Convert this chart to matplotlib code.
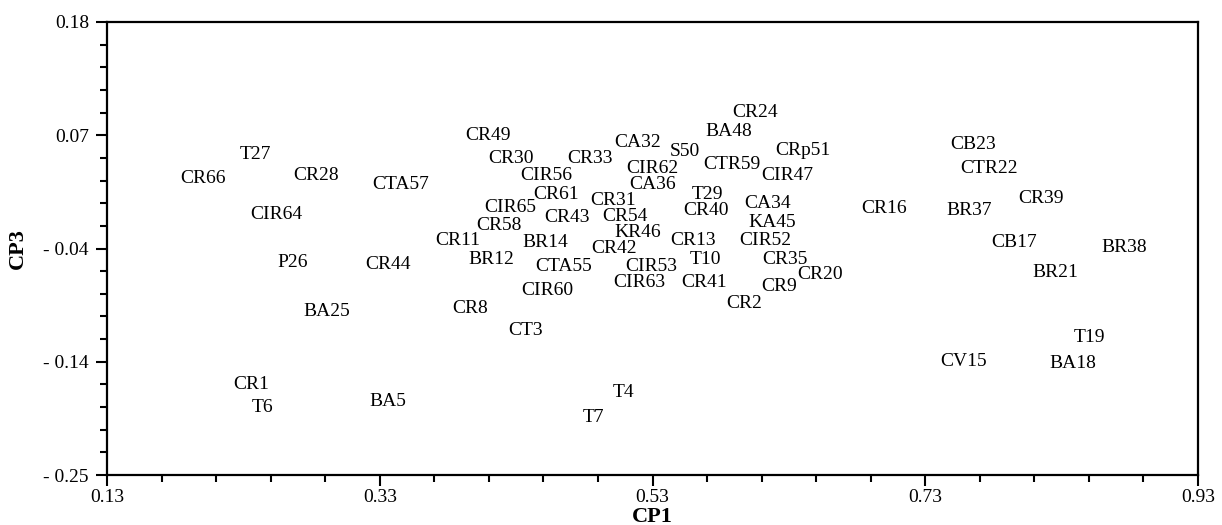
import matplotlib
matplotlib.use("Agg")
import matplotlib.pyplot as plt
import numpy as np
from matplotlib.ticker import AutoMinorLocator

plt.rcParams['font.family'] = ['Liberation Serif', 'DejaVu Serif']

# sample labels and their scores on CP1 / CP3
labels = ["CR1", "CR2", "CT3", "T4", "BA5", "T6", "T7", "CR8", "CR9", "T10",
          "CR11", "BR12", "CR13", "BR14", "CV15", "CR16", "CB17", "BA18", "T19", "CR20",
          "BR21", "CTR22", "CB23", "CR24", "BA25", "P26", "T27", "CR28", "T29", "CR30",
          "CR31", "CA32", "CR33", "CA34", "CR35", "CA36", "BR37", "BR38", "CR39", "CR40",
          "CR41", "CR42", "CR43", "CR44", "KA45", "KR46", "CIR47", "BA48", "CR49", "S50",
          "CRp51", "CIR52", "CIR53", "CR54", "CTA55", "CIR56", "CTA57", "CR58", "CTR59", "CIR60",
          "CR61", "CIR62", "CIR63", "CIR64", "CIR65", "CR66"]
cp1 = [0.236, 0.597, 0.437, 0.509, 0.336, 0.244, 0.487, 0.396, 0.623, 0.569,
       0.387, 0.412, 0.560, 0.451, 0.758, 0.700, 0.795, 0.838, 0.850, 0.653,
       0.825, 0.777, 0.765, 0.605, 0.291, 0.266, 0.239, 0.283, 0.570, 0.426,
       0.501, 0.519, 0.484, 0.614, 0.627, 0.530, 0.762, 0.876, 0.815, 0.569,
       0.568, 0.502, 0.467, 0.336, 0.618, 0.519, 0.629, 0.586, 0.409, 0.554,
       0.640, 0.613, 0.529, 0.510, 0.465, 0.452, 0.345, 0.417, 0.588, 0.453,
       0.459, 0.530, 0.520, 0.254, 0.426, 0.200]
cp3 = [-0.164, -0.087, -0.113, -0.172, -0.180, -0.186, -0.195, -0.092, -0.071, -0.045,
       -0.027, -0.045, -0.027, -0.029, -0.142, 0.003, -0.029, -0.144, -0.119, -0.060,
       -0.058, 0.041, 0.064, 0.094, -0.095, -0.048, 0.054, 0.034, 0.016, 0.050,
       0.011, 0.066, 0.050, 0.008, -0.045, 0.026, 0.001, -0.034, 0.012, 0.001,
       -0.067, -0.035, -0.006, -0.050, -0.010, -0.020, 0.034, 0.076, 0.072, 0.057,
       0.058, -0.027, -0.052, -0.005, -0.052, 0.034, 0.026, -0.013, 0.045, -0.075,
       0.016, 0.041, -0.067, -0.003, 0.004, 0.031]

xticks = [0.13, 0.33, 0.53, 0.73, 0.93]
xticklabels = ["0.13", "0.33", "0.53", "0.73", "0.93"]
yticks = list(np.linspace(0.18, -0.25, 5))
yticklabels = ["0.18", "0.07", "- 0.04", "- 0.14", "- 0.25"]

fig = plt.figure(figsize=(12.22, 5.25), dpi=100)
ax = fig.add_axes([0.0876, 0.0952, 0.8928, 0.8629])

for lab, x, y in zip(labels, cp1, cp3):
    ax.text(x, y, lab, ha="center", va="center", fontsize=14)

ax.set_xlim(0.13, 0.93)
ax.set_ylim(-0.25, 0.18)
ax.set_xticks(xticks)
ax.set_xticklabels(xticklabels, fontsize=14)
ax.set_yticks(yticks)
ax.set_yticklabels(yticklabels, fontsize=14)
ax.xaxis.set_minor_locator(AutoMinorLocator(5))
ax.yaxis.set_minor_locator(AutoMinorLocator(5))
ax.tick_params(which="major", direction="out", length=8, width=1.5)
ax.tick_params(axis="x", which="major", pad=2)
ax.tick_params(axis="y", which="major", pad=5)
ax.tick_params(which="minor", direction="out", length=5, width=1.5)
ax.tick_params(top=False, right=False)
for s in ax.spines.values():
    s.set_linewidth(1.6)

ax.set_xlabel("CP1", fontsize=16, fontweight="bold", va="center")
ax.xaxis.set_label_coords(0.5, -0.093)
ax.set_ylabel("CP3", fontsize=16, fontweight="bold", va="center")
ax.yaxis.set_label_coords(-0.082, 0.5)

fig.savefig("out.png", dpi=100)
